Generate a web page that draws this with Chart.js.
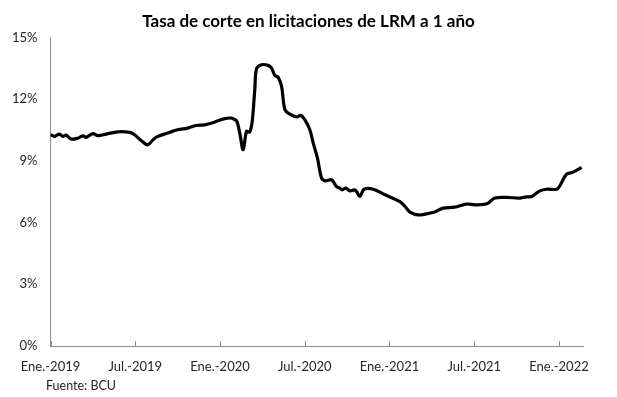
<!DOCTYPE html>
<html>
<head>
<meta charset="utf-8">
<script src="https://cdn.jsdelivr.net/npm/chart.js"></script>
<style>
    html, body { margin: 0; padding: 0; background: #fff; }
    #wrap { position: relative; width: 617px; height: 397px; }
    #source {
        position: absolute; left: 46px; top: 378px;
        font: 12.5px Lato, sans-serif; color: #262626;
    }
</style>
</head>
<body>
<div id="wrap">
    <canvas id="chart" width="617" height="397"></canvas>
    <div id="source">Fuente: BCU</div>
</div>
<script>
// months elapsed since Jan 2019 (one point per auction, approx.)
const months = [
    0, 0.28, 0.64, 0.87, 1.1, 1.46, 1.93, 2.29, 2.52, 3.0, 3.35, 3.94, 4.77, 5.6, 5.95,
    6.42, 6.89, 7.25, 7.6, 8.3, 9.0, 9.72, 10.3, 10.9, 11.6, 12.2, 12.8, 13.05, 13.2,
    13.4, 13.64, 13.88, 14.1, 14.28, 14.47, 14.59, 14.94, 15.41, 15.65, 15.89, 16.12,
    16.36, 16.6, 16.95, 17.42, 17.73, 18.0, 18.36, 18.6, 18.9, 19.19, 19.43, 19.9,
    20.25, 20.49, 20.65, 20.9, 21.2, 21.55, 21.67, 21.9, 22.2, 22.85, 23.68, 24.74,
    25.1, 25.45, 26.03, 26.6, 27.2, 27.8, 28.6, 29.46, 30.05, 30.88, 31.47, 32.3,
    33.24, 33.6, 34.07, 34.65, 35.13, 35.84, 36.07, 36.54, 37.0, 37.6
];
// cut-off rate, %
const rates = [
    10.27, 10.19, 10.30, 10.19, 10.25, 10.06, 10.10, 10.22, 10.14, 10.32, 10.23, 10.30, 10.41, 10.38, 10.27,
    9.99, 9.78, 10.02, 10.19, 10.35, 10.51, 10.59, 10.72, 10.75, 10.88, 11.03, 11.08, 11.0, 10.92,
    10.35, 9.54, 10.43, 10.40, 10.92, 12.54, 13.48, 13.67, 13.64, 13.51, 13.15, 13.06,
    12.62, 11.48, 11.27, 11.13, 11.21, 11.0, 10.51, 9.86, 9.13, 8.16, 8.03, 8.08,
    7.75, 7.67, 7.59, 7.67, 7.54, 7.59, 7.51, 7.27, 7.62, 7.62, 7.35, 7.02,
    6.78, 6.51, 6.37, 6.42, 6.51, 6.70, 6.75, 6.90, 6.86, 6.91, 7.19, 7.22,
    7.19, 7.24, 7.27, 7.54, 7.62, 7.62, 7.80, 8.35, 8.45, 8.68
];
const tickMonths = [0, 6, 12, 18, 24, 30, 36];
const tickLabels = ['Ene.-2019', 'Jul.-2019', 'Ene.-2020', 'Jul.-2020', 'Ene.-2021', 'Jul.-2021', 'Ene.-2022'];
const yTicks = [0, 3, 6, 9, 12, 15];

const AXIS_COLOR = '#8c8c8c';
const TEXT_COLOR = '#262626';

// small tick marks pointing up from the x axis, like the original
const insideTicks = {
    id: 'insideTicks',
    afterDraw(chart) {
        const x = chart.scales.x;
        const ctx = chart.ctx;
        ctx.save();
        ctx.strokeStyle = AXIS_COLOR;
        ctx.lineWidth = 1;
        tickMonths.forEach(m => {
            const px = Math.round(x.getPixelForValue(m)) + 0.5;
            ctx.beginPath();
            ctx.moveTo(px, x.top);
            ctx.lineTo(px, x.top - 5);
            ctx.stroke();
        });
        ctx.restore();
    }
};

new Chart(document.getElementById('chart'), {
    type: 'line',
    data: {
        datasets: [{
            data: months.map((m, i) => ({ x: m, y: rates[i] })),
            borderColor: '#000',
            borderWidth: 3.2,
            pointRadius: 0,
            tension: 0.35,
            fill: false
        }]
    },
    options: {
        responsive: false,
        animation: false,
        layout: { padding: 0 },
        plugins: {
            legend: { display: false },
            tooltip: { enabled: false },
            title: {
                display: true,
                text: 'Tasa de corte en licitaciones de LRM a 1 año',
                color: '#000',
                font: { family: 'Lato', size: 17, weight: 'bold' },
                padding: { top: 11, bottom: 6 }
            }
        },
        scales: {
            x: {
                type: 'linear',
                min: 0,
                max: 37.7,
                afterFit: s => { s.height = 51; },
                afterBuildTicks: s => { s.ticks = tickMonths.map(v => ({ value: v })); },
                grid: { display: false, drawTicks: false },
                border: { display: true, color: AXIS_COLOR, width: 1 },
                ticks: {
                    padding: 13,
                    maxRotation: 0,
                    autoSkip: false,
                    color: TEXT_COLOR,
                    font: { family: 'Lato', size: 13 },
                    callback: v => tickLabels[tickMonths.indexOf(v)]
                }
            },
            y: {
                min: 0,
                max: 15,
                afterFit: s => { s.width = 50.5; },
                afterBuildTicks: s => { s.ticks = yTicks.map(v => ({ value: v })); },
                grid: { display: false, drawTicks: false },
                border: { display: true, color: AXIS_COLOR, width: 1 },
                ticks: {
                    padding: 13,
                    color: TEXT_COLOR,
                    font: { family: 'Lato', size: 13 },
                    callback: v => v + '%'
                }
            },
            // empty right-hand spacer so the title stays centred on the page
            spacer: {
                position: 'right',
                min: 0,
                max: 15,
                afterFit: s => { s.width = 34; },
                grid: { display: false, drawTicks: false },
                border: { display: false },
                ticks: { display: false }
            }
        }
    },
    plugins: [insideTicks]
});
</script>
</body>
</html>
